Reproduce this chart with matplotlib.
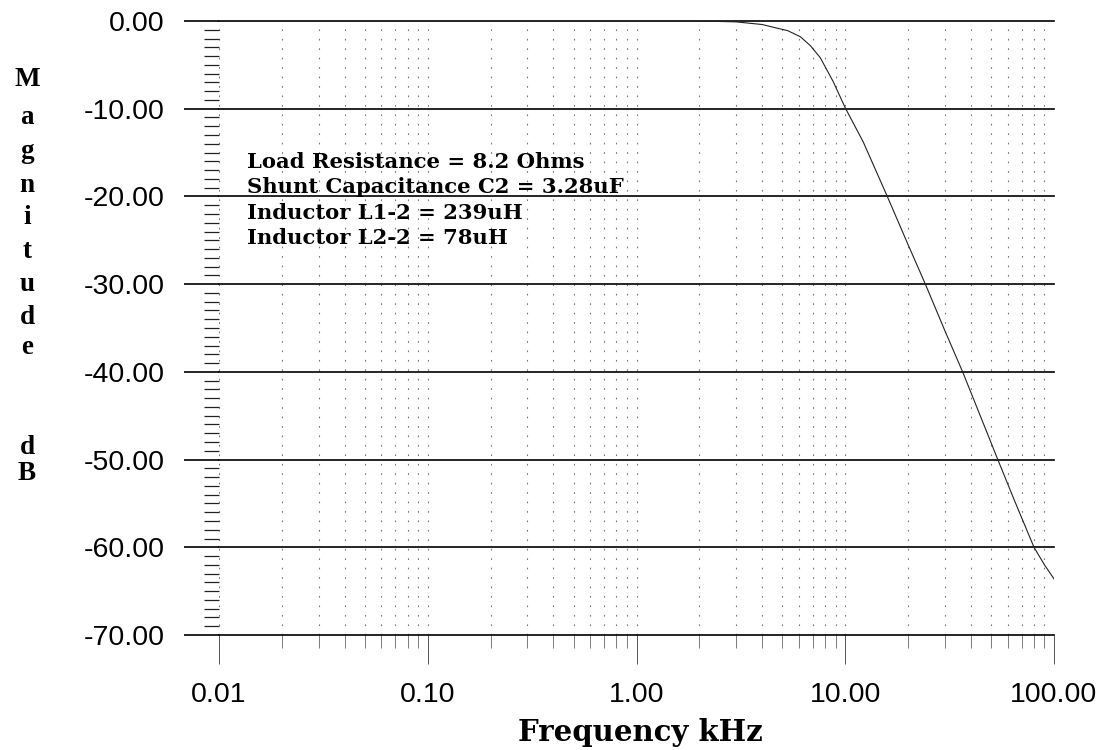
import matplotlib
matplotlib.use("Agg")
import matplotlib.pyplot as plt
from matplotlib.ticker import FixedLocator, LogLocator, NullFormatter

# ---- data ----
freq_khz = [0.01, 0.1, 1.0, 2.0, 3.0, 4.0, 4.5, 5.3, 6.1, 6.8, 7.6, 8.75, 10.0, 12.2,
            15.9, 20.0, 24.2, 30.0, 36.5, 49.8, 53.8, 65.0, 80.2, 90.0, 100.0]
mag_db = [0.0, 0.0, 0.0, 0.0, -0.1, -0.4, -0.7, -1.1, -1.8, -2.8, -4.2, -6.9, -9.9, -13.8,
          -20.0, -25.5, -30.0, -35.3, -40.0, -48.0, -50.0, -54.8, -60.0, -62.0, -63.6]

x_ticks = [0.01, 0.1, 1.0, 10.0, 100.0]
x_tick_labels = ["0.01", "0.10", "1.00", "10.00", "100.00"]
y_ticks = [0, -10, -20, -30, -40, -50, -60, -70]
y_tick_labels = ["0.00", "-10.00", "-20.00", "-30.00", "-40.00", "-50.00", "-60.00", "-70.00"]

annotation_lines = ["Load Resistance = 8.2 Ohms",
                    "Shunt Capacitance C2 = 3.28uF",
                    "Inductor L1-2 = 239uH",
                    "Inductor L2-2 = 78uH"]
ylabel_letters = ["M", "a", "g", "n", "i", "t", "u", "d", "e", "d", "B"]
xlabel_text = "Frequency kHz"

# ---- figure ----
W, H = 1109, 750
fig = plt.figure(figsize=(W / 100, H / 100), dpi=100)
left_px, right_px, top_px, bottom_px = 219, 1054, 21, 635
ax = fig.add_axes([left_px / W, (H - bottom_px) / H,
                   (right_px - left_px) / W, (bottom_px - top_px) / H])

ax.set_xscale("log")
ax.set_xlim(0.01, 100)
ax.set_ylim(-70, 0)

ax.plot(freq_khz, mag_db, color="#222222", lw=0.8, zorder=3)

for s in ax.spines.values():
    s.set_visible(False)

# x ticks
ax.xaxis.set_major_locator(FixedLocator(x_ticks))
ax.set_xticklabels(x_tick_labels, fontfamily="Liberation Sans", fontsize=20.5)
ax.xaxis.set_minor_locator(LogLocator(base=10, subs=range(2, 10), numticks=20))
ax.xaxis.set_minor_formatter(NullFormatter())
ax.tick_params(axis="x", which="major", direction="out", length=21, width=0.7,
               color="#555555", pad=13)
ax.tick_params(axis="x", which="minor", direction="out", length=9, width=0.6,
               color="#666666")

# y ticks
ax.yaxis.set_major_locator(FixedLocator(y_ticks))
ax.set_yticklabels(y_tick_labels, fontfamily="Liberation Sans", fontsize=20.5)
ax.yaxis.set_minor_locator(FixedLocator([v for v in range(-70, 1) if v % 10 != 0]))
ax.tick_params(axis="y", which="major", direction="out", length=25, width=1.2,
               color="black", pad=14)
ax.tick_params(axis="y", which="minor", direction="out", length=11, width=0.9,
               color="#222222")

# grids
ax.yaxis.grid(True, which="major", color="black", lw=1.2)
ax.xaxis.grid(True, which="both", color="#777777", lw=0.8, linestyle=(0, (1.5, 7)))
for ln in ax.get_ygridlines():
    ln.set_clip_on(False)

# annotation block
line_y_px = [162, 187, 213, 238]
for txt, ypx in zip(annotation_lines, line_y_px):
    fig.text(247 / W, 1 - ypx / H, txt, ha="left", va="center",
             fontfamily="DejaVu Serif", fontweight="bold", fontsize=15.2)

# vertical y-label
ylabel_y_px = [80, 117, 152, 186, 218, 251, 284, 317, 348, 447, 474]
for ch, ypx in zip(ylabel_letters, ylabel_y_px):
    fig.text(27 / W, 1 - ypx / H, ch, ha="center", va="center",
             fontfamily="Liberation Serif", fontweight="bold", fontsize=19.5)

# x label
fig.text(640 / W, 1 - 741 / H, xlabel_text, ha="center", va="baseline",
         fontfamily="DejaVu Serif", fontweight="bold", fontsize=21)

fig.savefig("out.png", dpi=100)
